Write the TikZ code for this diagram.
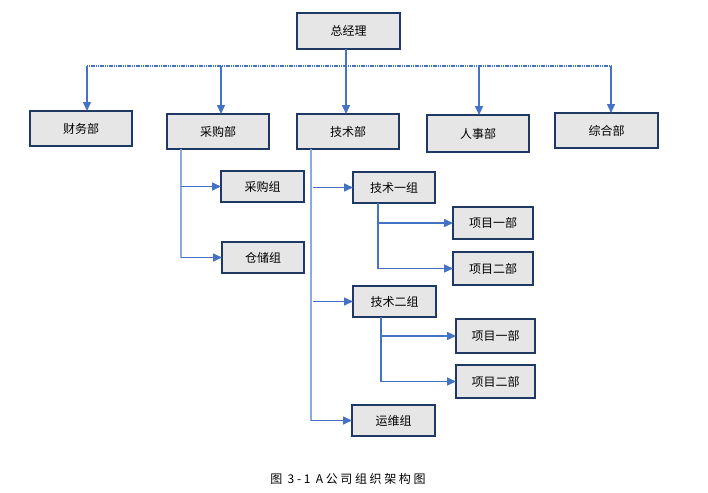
\documentclass[tikz,border=0pt]{standalone}
\usepackage{fontspec}
\setmainfont{Noto Sans CJK SC}
\newfontfamily\capfont[LetterSpace=22]{Noto Sans CJK SC}
\usetikzlibrary{arrows.meta}
\definecolor{boxfill}{HTML}{E6E6E6}
\definecolor{boxline}{HTML}{1F3864}
\definecolor{conn}{HTML}{4472C4}
\definecolor{connlight}{HTML}{8EAADB}
\tikzset{
  box/.style={draw=boxline, fill=boxfill, line width=1.8pt, inner sep=0pt, outer sep=0pt, font=\fontsize{12}{14}\selectfont},
  arr/.style={draw=conn, line width=1.5pt, -{Triangle[length=9pt,width=8pt]}},
  trunk/.style={draw=conn, line width=1.1pt},
  trunklight/.style={draw=connlight, line width=1.3pt},
  bus/.style={draw=conn, line width=1.3pt, dash pattern=on 1.2pt off 0.6pt},
}
\begin{document}
\begin{tikzpicture}[x=1pt,y=-1pt]
\useasboundingbox (0,0) rectangle (708,492);
% top level
\node[box, minimum width=103pt, minimum height=36pt] (gm) at (348.5,31) {总经理};
\node[box, minimum width=102pt, minimum height=35pt] (cw) at (81,128.5) {财务部};
\node[box, minimum width=102pt, minimum height=35pt] (cg) at (218,131.5) {采购部};
\node[box, minimum width=102pt, minimum height=35pt] (js) at (348,131.5) {技术部};
\node[box, minimum width=102pt, minimum height=37pt] (rs) at (478,133.5) {人事部};
\node[box, minimum width=103pt, minimum height=35pt] (zh) at (606.5,130.5) {综合部};
% second level
\node[box, minimum width=83pt, minimum height=31pt] (cgz) at (262.5,186.5) {采购组};
\node[box, minimum width=82pt, minimum height=31pt] (ccz) at (263,257.5) {仓储组};
\node[box, minimum width=82pt, minimum height=31pt] (js1) at (394,187.5) {技术一组};
\node[box, minimum width=80pt, minimum height=32pt] (p11) at (493,223) {项目一部};
\node[box, minimum width=80pt, minimum height=33pt] (p12) at (493,268.5) {项目二部};
\node[box, minimum width=83pt, minimum height=31pt] (js2) at (394.5,301.5) {技术二组};
\node[box, minimum width=79pt, minimum height=34pt] (p21) at (495.5,336) {项目一部};
\node[box, minimum width=79pt, minimum height=33pt] (p22) at (495.5,381.5) {项目二部};
\node[box, minimum width=83pt, minimum height=31pt] (yw) at (393.5,420.5) {运维组};
% bus
\coordinate (b1) at (87,66);
\coordinate (b2) at (221,66);
\coordinate (b3) at (346,66);
\coordinate (b4) at (479,66);
\coordinate (b5) at (611,66);
\draw[bus] (b1) -- (b5);
\draw[trunk] (gm.south -| b3) -- (b3);
\draw[arr] (b1) -- (b1 |- cw.north);
\draw[arr] (b2) -- (b2 |- cg.north);
\draw[arr] (b3) -- (b3 |- js.north);
\draw[arr] (b4) -- (b4 |- rs.north);
\draw[arr] (b5) -- (b5 |- zh.north);
% 采购 branch
\coordinate (t1) at (181,0);
\draw[trunklight] (cg.south -| t1) -- (ccz.west -| t1);
\draw[arr] (cgz.west -| t1) -- (cgz.west);
\draw[arr] (ccz.west -| t1) -- (ccz.west);
% 技术 branch
\coordinate (t2) at (311,0);
\draw[trunklight] (js.south -| t2) -- (yw.west -| t2);
\draw[arr] ([xshift=2pt]js1.west -| t2) -- (js1.west);
\draw[arr] ([xshift=2pt]js2.west -| t2) -- (js2.west);
\draw[arr] (yw.west -| t2) -- (yw.west);
\coordinate (t3) at (378,0);
\draw[trunk] (js1.south -| t3) -- (p12.west -| t3);
\draw[arr] (p11.west -| t3) -- (p11.west);
\draw[arr] (p12.west -| t3) -- (p12.west);
\coordinate (t4) at (381,0);
\draw[trunk] (js2.south -| t4) -- (p22.west -| t4);
\draw[arr] (p21.west -| t4) -- (p21.west);
\draw[arr] (p22.west -| t4) -- (p22.west);
% caption
\node[font=\capfont\fontsize{12}{14}\selectfont] (cap) at (348,479) {图 3-1 A公司组织架构图};
\end{tikzpicture}
\end{document}
